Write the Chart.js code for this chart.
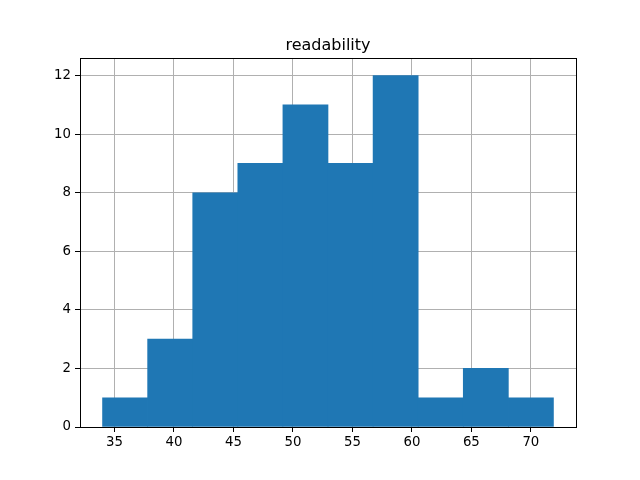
<!DOCTYPE html>
<html>
<head>
<meta charset="utf-8">
<script src="https://cdn.jsdelivr.net/npm/chart.js@4"></script>
<style>
    html, body { margin: 0; padding: 0; background: #fff; }
</style>
</head>
<body>
<canvas id="histChart" width="640" height="480"></canvas>
<script>
// Histogram data: bin edges and counts
const binEdges = [34.0, 37.79, 41.58, 45.37, 49.16, 52.95, 56.74, 60.53, 64.32, 68.11, 71.9];
const counts = [1, 3, 8, 9, 11, 9, 12, 1, 2, 1];
const xTicks = [35, 40, 45, 50, 55, 60, 65, 70];
const yTicks = [0, 2, 4, 6, 8, 10, 12];
const chartTitle = 'readability';

// Bars centred in each bin
const bars = counts.map((c, i) => ({ x: (binEdges[i] + binEdges[i + 1]) / 2, y: c }));

// Frame around the plot area (all four spines) + title centred over the plot area
const framePlugin = {
    id: 'frame',
    afterDraw(chart) {
        const { ctx, chartArea } = chart;
        ctx.save();
        ctx.strokeStyle = '#000';
        ctx.lineWidth = 1;
        ctx.strokeRect(Math.round(chartArea.left) + 0.5, Math.round(chartArea.top) + 0.5,
            Math.round(chartArea.right - chartArea.left), Math.round(chartArea.bottom - chartArea.top));
        ctx.fillStyle = '#000';
        ctx.font = '16px "DejaVu Sans"';
        ctx.textAlign = 'center';
        ctx.textBaseline = 'alphabetic';
        ctx.fillText(chartTitle, (chartArea.left + chartArea.right) / 2, chartArea.top - 8);
        ctx.restore();
    }
};

const tickFont = { family: 'DejaVu Sans', size: 13.3 };

new Chart(document.getElementById('histChart').getContext('2d'), {
    type: 'bar',
    data: {
        datasets: [{
            data: bars,
            backgroundColor: '#1f77b4',
            borderWidth: 0,
            barPercentage: 1,
            categoryPercentage: 1
        }]
    },
    options: {
        responsive: false,
        animation: false,
        devicePixelRatio: 1,
        layout: { padding: { left: 0, right: 64, top: 58, bottom: 0 } },
        plugins: {
            legend: { display: false },
            tooltip: { enabled: false },
            title: { display: false }
        },
        scales: {
            x: {
                type: 'linear',
                min: 32.105,
                max: 73.795,
                offset: false,
                z: 1,
                border: { display: false },
                grid: { offset: false, color: '#b0b0b0', lineWidth: 1, drawTicks: true, tickLength: 5, tickColor: '#000' },
                ticks: { color: '#000', font: tickFont, padding: 3, maxRotation: 0 },
                afterBuildTicks: scale => { scale.ticks = xTicks.map(v => ({ value: v })); },
                afterFit: scale => { scale.height = 53; }
            },
            y: {
                min: 0,
                max: 12.6,
                z: 1,
                border: { display: false },
                grid: { color: '#b0b0b0', lineWidth: 1, drawTicks: true, tickLength: 5, tickColor: '#000' },
                ticks: { color: '#000', font: tickFont, padding: 4 },
                afterBuildTicks: scale => { scale.ticks = yTicks.map(v => ({ value: v })); },
                afterFit: scale => { scale.width = 80; }
            }
        }
    },
    plugins: [framePlugin]
});
</script>
</body>
</html>
